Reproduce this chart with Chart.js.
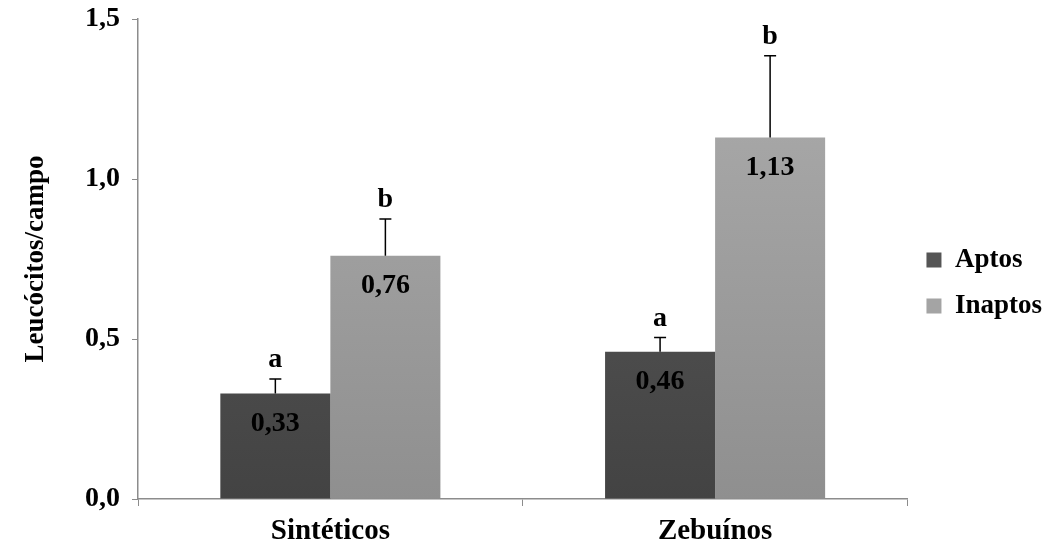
<!DOCTYPE html>
<html>
<head>
<meta charset="utf-8">
<script src="https://cdn.jsdelivr.net/npm/chart.js@4"></script>
<style>
  body { margin: 0; background: #fff; }
  #wrap { width: 1059px; height: 549px; }
</style>
</head>
<body>
<div id="wrap"><canvas id="chart" width="1059" height="549"></canvas></div>
<script>
// data
const categories = ["Sintéticos", "Zebuínos"];
const aptos = [0.33, 0.46];
const inaptos = [0.76, 1.13];
const aptosErr = [0.045, 0.045];
const inaptosErr = [0.115, 0.255];
const aptosLetters = ["a", "a"];
const inaptosLetters = ["b", "b"];
const yTicks = [0, 0.5, 1.0, 1.5];

const FONT = "'Liberation Serif', 'Times New Roman', serif";

function fmt(v, d) {
  return v.toFixed(d).replace(".", ",");
}

function grad(ctx, top, bottom) {
  const chart = ctx.chart;
  const area = chart.chartArea;
  if (!area) return bottom;
  const g = chart.ctx.createLinearGradient(0, area.top, 0, area.bottom);
  g.addColorStop(0, top);
  g.addColorStop(1, bottom);
  return g;
}

// error bars, letters and value labels
const extras = {
  id: "extras",
  afterDatasetsDraw(chart) {
    const ctx = chart.ctx;
    const y = chart.scales.y;
    const sets = [
      { vals: aptos, err: aptosErr, letters: aptosLetters },
      { vals: inaptos, err: inaptosErr, letters: inaptosLetters },
    ];
    sets.forEach(function (s, di) {
      const meta = chart.getDatasetMeta(di);
      meta.data.forEach(function (bar, i) {
        const x = bar.x;
        const top = y.getPixelForValue(s.vals[i] + s.err[i]);
        ctx.save();
        ctx.strokeStyle = "#000";
        ctx.lineWidth = 1.5;
        ctx.beginPath();
        ctx.moveTo(x, bar.y);
        ctx.lineTo(x, top);
        ctx.moveTo(x - 6, top);
        ctx.lineTo(x + 6, top);
        ctx.stroke();
        ctx.fillStyle = "#000";
        ctx.textAlign = "center";
        ctx.textBaseline = "middle";
        ctx.font = "bold 28px " + FONT;
        ctx.fillText(s.letters[i], x, top - 19);
        ctx.fillText(fmt(s.vals[i], 2), x, bar.y + 30);
        ctx.restore();
      });
    });
  },
};

new Chart(document.getElementById("chart"), {
  type: "bar",
  data: {
    labels: categories,
    datasets: [
      {
        label: "Aptos",
        data: aptos,
        backgroundColor: function (ctx) { return grad(ctx, "#5e5e5e", "#434343"); },
        categoryPercentage: 0.572,
        barPercentage: 1.0,
      },
      {
        label: "Inaptos",
        data: inaptos,
        backgroundColor: function (ctx) { return grad(ctx, "#adadad", "#8f8f8f"); },
        categoryPercentage: 0.572,
        barPercentage: 1.0,
      },
    ],
  },
  options: {
    responsive: false,
    animation: false,
    layout: { padding: { top: 0, right: 7, left: 0, bottom: 0 } },
    plugins: {
      tooltip: { enabled: false },
      legend: {
        position: "right",
        // blank title only pushes the items down a little
        title: { display: true, text: " ", color: "#000", font: { size: 10, lineHeight: 1 }, padding: { top: 4, bottom: 3 } },
        labels: {
          color: "#000",
          font: { family: FONT, size: 27, weight: "bold" },
          boxWidth: 15,
          boxHeight: 15,
          padding: 19,
          generateLabels: function (chart) {
            const cols = ["#555555", "#a4a4a4"];
            return chart.data.datasets.map(function (d, i) {
              return { text: d.label, fillStyle: cols[i], strokeStyle: cols[i], fontColor: "#000", lineWidth: 0, datasetIndex: i };
            });
          },
        },
      },
    },
    scales: {
      x: {
        grid: { offset: true, drawOnChartArea: false, drawTicks: true, tickLength: 7, color: "#8c8c8c" },
        border: { color: "#8c8c8c", width: 1.5 },
        ticks: { color: "#000", font: { family: FONT, size: 29, weight: "bold", lineHeight: 1 }, padding: 11 },
        afterFit: function (s) { s.height = 50; },
      },
      y: {
        min: 0,
        max: 1.5,
        afterBuildTicks: function (s) { s.ticks = yTicks.map(function (v) { return { value: v }; }); },
        grid: { drawOnChartArea: false, drawTicks: true, tickLength: 6, color: "#8c8c8c" },
        border: { color: "#8c8c8c", width: 1.5 },
        ticks: {
          color: "#000",
          font: { family: FONT, size: 28, weight: "bold", lineHeight: 1 },
          padding: 12,
          callback: function (v) { return fmt(v, 1); },
        },
        title: {
          display: true,
          text: "Leucócitos/campo",
          color: "#000",
          font: { family: FONT, size: 27, weight: "bold" },
          padding: { top: 20, bottom: 0 },
        },
        afterFit: function (s) { s.width = 138; s.paddingTop = 19; },
      },
    },
  },
  plugins: [extras],
});
</script>
</body>
</html>
